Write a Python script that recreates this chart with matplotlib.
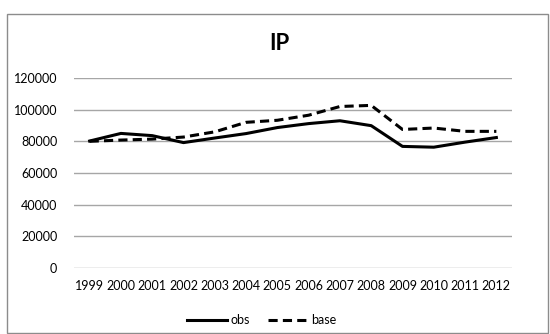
import matplotlib
matplotlib.use("Agg")
import matplotlib.pyplot as plt
from matplotlib.patches import Rectangle

years = ["1999", "2000", "2001", "2002", "2003", "2004", "2005",
         "2006", "2007", "2008", "2009", "2010", "2011", "2012"]
obs = [80200, 85000, 83600, 79200, 82100, 84900, 88700,
       91200, 93000, 89900, 76800, 76300, 79500, 82400]
base = [80000, 80800, 81400, 82700, 86000, 92000, 93300,
        96500, 102000, 102700, 87500, 88400, 86300, 86300]
yticks = [0, 20000, 40000, 60000, 80000, 100000, 120000]

plt.rcParams['font.family'] = ['Lato', 'DejaVu Sans']

fig = plt.figure(figsize=(5.5, 3.34), dpi=100)
ax = fig.add_axes([74/550, 1 - 268/334, 438/550, 190/334])

x = list(range(len(years)))
ax.plot(x, obs, color="black", lw=2.2, label="obs")
ax.plot(x, base, color="black", lw=2.2, ls=(0, (3, 1.7)), label="base")

ax.set_xlim(-0.5, len(years) - 0.5)
ax.set_ylim(0, 120000)
ax.set_yticks(yticks)
ax.set_yticklabels([str(v) for v in yticks], fontsize=9)
ax.set_xticks(x)
ax.set_xticklabels(years, fontsize=9)
ax.tick_params(length=0, pad=9)
ax.tick_params(axis="y", pad=12)
ax.grid(axis="y", color="#a6a6a6", lw=1)
ax.set_axisbelow(True)
for s in ax.spines.values():
    s.set_visible(False)

fig.text(279/550, 1 - 44/334, "IP", fontsize=16, fontweight="bold",
         ha="center", va="center")

fig.legend(loc="center", bbox_to_anchor=(262/550, 1 - 320/334), ncol=2,
           frameon=False, fontsize=9, handlelength=3.2, columnspacing=1.4,
           handletextpad=0.3)

fig.patches.append(Rectangle((7/550, 1/334), 541/550, 319/334,
                             transform=fig.transFigure, fill=False,
                             edgecolor="#8c8c8c", lw=1))

fig.savefig("out.png", dpi=100)
